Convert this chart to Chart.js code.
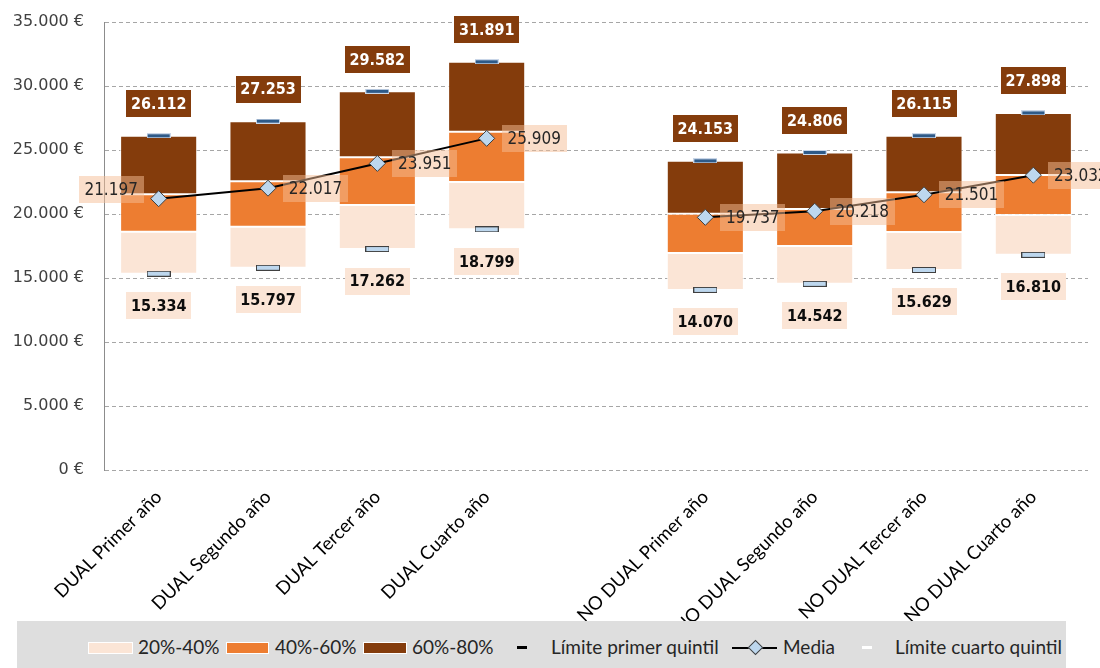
<!DOCTYPE html>
<html>
<head>
<meta charset="utf-8">
<script src="https://cdn.jsdelivr.net/npm/chart.js@4.4.1/dist/chart.umd.min.js"></script>
<style>
  html, body { margin: 0; padding: 0; background: #fff; }
  #wrap { position: relative; width: 1100px; height: 668px; overflow: hidden; }
  #grafico { position: absolute; left: 0; top: 0; }
  #leyenda { position: absolute; left: 17px; top: 621px; width: 1049px; height: 60px; background: #DEDEDE; }
  #leyenda span { position: absolute; font-family: Lato, sans-serif; font-size: 19px; color: #262626; line-height: 22px; top: 15px; white-space: nowrap; }
  #leyenda i { position: absolute; display: block; }
</style>
</head>
<body>
<div id="wrap">
  <canvas id="grafico" width="1100" height="668"></canvas>
  <div id="leyenda"></div>
</div>
<script>
// salario anual por quintiles, alumnos de FP dual y no dual
const categorias = ['DUAL Primer año', 'DUAL Segundo año', 'DUAL Tercer año', 'DUAL Cuarto año', '',
  'NO DUAL Primer año', 'NO DUAL Segundo año', 'NO DUAL Tercer año', 'NO DUAL Cuarto año'];
const limitePrimerQuintil = [15334, 15797, 17262, 18799, null, 14070, 14542, 15629, 16810];
const percentil40 = [18620, 19010, 20700, 22500, null, 16950, 17500, 18590, 19920];
const percentil60 = [21540, 22550, 24430, 26430, null, 20020, 20390, 21690, 23050];
const limiteCuartoQuintil = [26112, 27253, 29582, 31891, null, 24153, 24806, 26115, 27898];
const media = [21197, 22017, 23951, 25909, null, 19737, 20218, 21501, 23032];
const ticksEje = [0, 5000, 10000, 15000, 20000, 25000, 30000, 35000];

const fmt = n => String(n).replace(/\B(?=(\d{3})+(?!\d))/g, '.');
const tramo = (a, b) => a.map((v, i) => v == null ? null : [v, b[i]]);

// marcas de los límites: rayitas horizontales
function raya(w, h, relleno, borde) {
  const c = document.createElement('canvas');
  c.width = w; c.height = h;
  const g = c.getContext('2d');
  g.fillStyle = borde; g.fillRect(0, 0, w, h);
  g.fillStyle = relleno; g.fillRect(1, 1, w - 2, h - 2);
  return c;
}
const rayaCuarto = raya(24, 5, '#2E5A88', '#C9D6E8');
const rayaPrimer = raya(24, 6, '#BDD7EE', '#404040');

function caja(ctx, cx, cy, w, h, fondo, texto, color, font) {
  ctx.fillStyle = fondo;
  ctx.fillRect(Math.round(cx - w / 2), Math.round(cy - h / 2), w, h);
  ctx.fillStyle = color;
  ctx.font = font;
  ctx.textAlign = 'center';
  ctx.textBaseline = 'middle';
  ctx.fillText(texto, cx, cy + 1);
}

// etiquetas con el valor de cada límite y de la media
const etiquetas = {
  id: 'etiquetas',
  afterDatasetsDraw(chart) {
    const ctx = chart.ctx;
    const y = chart.scales.y;
    ctx.save();
    chart.getDatasetMeta(3).data.forEach((p, i) => {
      if (limiteCuartoQuintil[i] == null) return;
      caja(ctx, p.x, y.getPixelForValue(limiteCuartoQuintil[i]) - 32, 65, 27, '#843C0C',
        fmt(limiteCuartoQuintil[i]), '#fff', 'bold 16px "DejaVu Sans Condensed"');
    });
    chart.getDatasetMeta(4).data.forEach((p, i) => {
      if (limitePrimerQuintil[i] == null) return;
      caja(ctx, p.x, y.getPixelForValue(limitePrimerQuintil[i]) + 32, 65, 27, '#FBE5D6',
        fmt(limitePrimerQuintil[i]), '#0D0D0D', 'bold 16px "DejaVu Sans Condensed"');
    });
    chart.getDatasetMeta(5).data.forEach((p, i) => {
      if (media[i] == null) return;
      const izq = i === 0;
      const cx = izq ? p.x - 15 - 32.5 : p.x + 15 + 32.5;
      const cy = izq ? p.y - 9 : p.y;
      caja(ctx, cx, cy, 65, 27, 'rgba(246,190,150,0.5)', fmt(media[i]), '#262626', '17px "DejaVu Sans Condensed"');
    });
    ctx.restore();
  }
};

const barra = { grouped: false, barPercentage: 0.705, categoryPercentage: 1,
  borderWidth: 1, borderColor: 'rgba(255,255,255,0.85)', borderSkipped: false, order: 2 };

new Chart(document.getElementById('grafico'), {
  type: 'bar',
  data: {
    labels: categorias,
    datasets: [
      { ...barra, label: '20%-40%', data: tramo(limitePrimerQuintil, percentil40), backgroundColor: '#FBE5D6' },
      { ...barra, label: '40%-60%', data: tramo(percentil40, percentil60), backgroundColor: '#ED7D31' },
      { ...barra, label: '60%-80%', data: tramo(percentil60, limiteCuartoQuintil), backgroundColor: '#843C0C' },
      { type: 'line', label: 'Límite cuarto quintil', data: limiteCuartoQuintil, showLine: false,
        pointStyle: rayaCuarto, order: 1 },
      { type: 'line', label: 'Límite primer quintil', data: limitePrimerQuintil, showLine: false,
        pointStyle: rayaPrimer, order: 1 },
      { type: 'line', label: 'Media', data: media, borderColor: '#000', borderWidth: 2,
        pointStyle: 'rectRot', pointRadius: 8, pointBackgroundColor: '#BDD7EE',
        pointBorderColor: '#404040', pointBorderWidth: 1, order: 0 }
    ]
  },
  options: {
    responsive: false,
    animation: false,
    events: [],
    layout: { padding: { top: 22, right: 12, left: 0, bottom: 0 } },
    plugins: { legend: { display: false }, tooltip: { enabled: false } },
    scales: {
      x: {
        offset: true,
        grid: { display: false, drawTicks: false },
        border: { display: false },
        ticks: { autoSkip: false, minRotation: 45, maxRotation: 45, padding: 16, color: '#000',
          font: { family: 'Lato', size: 18.5 } },
        afterFit: s => { s.height = 198; }
      },
      y: {
        min: 0, max: 35000,
        afterBuildTicks: s => { s.ticks = ticksEje.map(v => ({ value: v })); },
        grid: { color: '#A6A6A6', lineWidth: 1, drawTicks: true, tickLength: 14, tickColor: 'rgba(0,0,0,0)' },
        border: { display: true, color: '#8C8C8C', width: 1, dash: [4, 3] },
        ticks: { padding: 6, color: '#404040', font: { family: 'DejaVu Sans', size: 16 },
          callback: v => fmt(v) + ' €' },
        afterFit: s => { s.width = 104; }
      }
    }
  },
  plugins: [etiquetas]
});

// leyenda inferior
const leyenda = document.getElementById('leyenda');
const L0 = 17, T0 = 621;
function pieza(x, y, w, h, css) {
  const e = document.createElement('i');
  e.style.cssText = `left:${x - L0}px;top:${y - T0}px;width:${w}px;height:${h}px;${css}`;
  leyenda.appendChild(e);
}
function texto(x, t) {
  const e = document.createElement('span');
  e.style.left = (x - L0) + 'px';
  e.textContent = t;
  leyenda.appendChild(e);
}
pieza(88, 642, 45, 12, 'background:#FBE5D6;box-sizing:border-box;border:1px solid #fff;');
texto(138, '20%-40%');
pieza(226, 642, 43, 12, 'background:#ED7D31;box-sizing:border-box;border:1px solid #fff;');
texto(275, '40%-60%');
pieza(363, 642, 44, 12, 'background:#843C0C;box-sizing:border-box;border:1px solid #fff;');
texto(412, '60%-80%');
pieza(517, 646, 10, 3, 'background:#000;');
texto(551, 'Límite primer quintil');
pieza(732, 647, 45, 2, 'background:#000;');
pieza(750, 642, 9, 9, 'background:#BDD7EE;border:1px solid #404040;transform:rotate(45deg);');
texto(783, 'Media');
pieza(862, 646, 10, 3, 'background:#fff;');
texto(895, 'Límite cuarto quintil');
</script>
</body>
</html>
